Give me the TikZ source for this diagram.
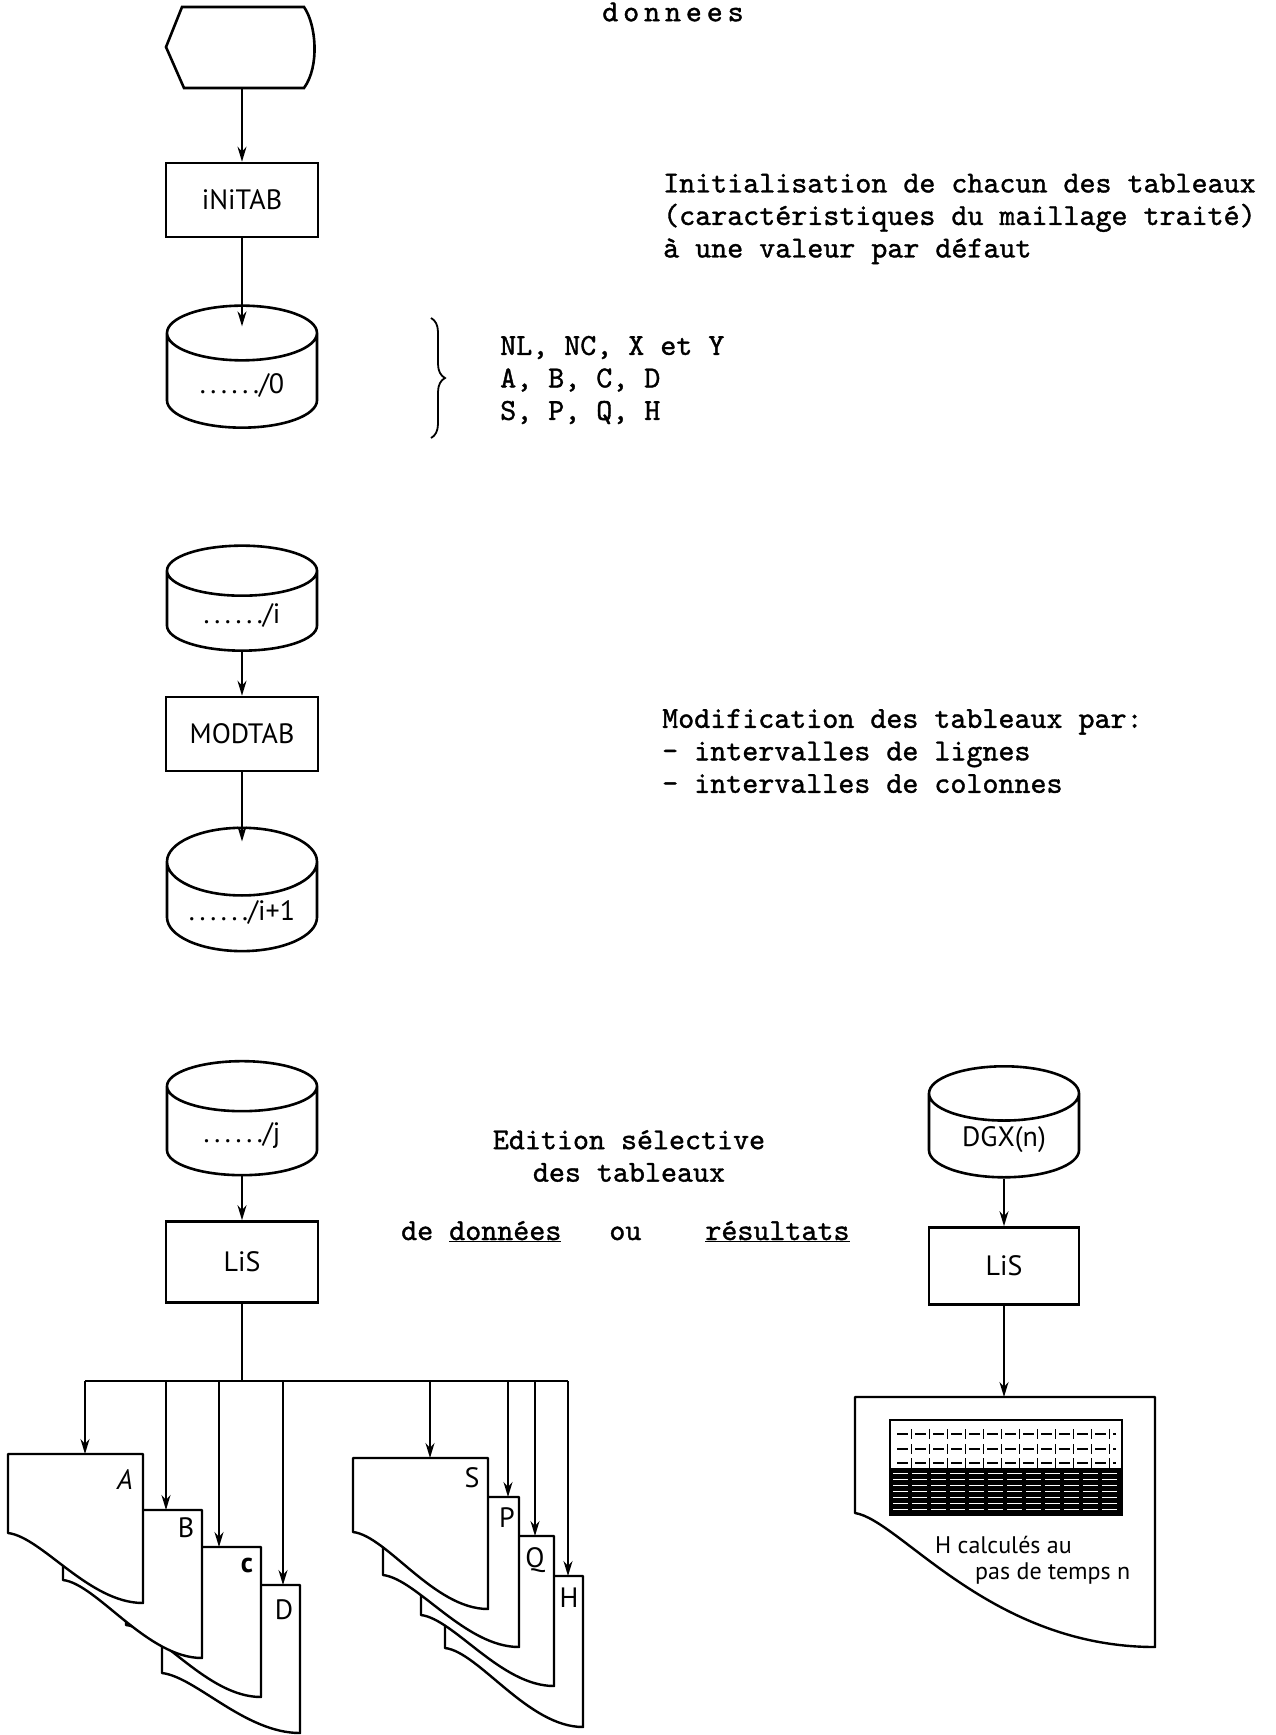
\documentclass[tikz,border=0pt]{standalone}
\usepackage{fontspec}
\usetikzlibrary{arrows,arrows.meta,shapes,decorations.pathreplacing}
\newfontfamily\manus{PT Sans}
\newfontfamily\machine{lmmono10-regular.otf}[FakeBold=1.2]
\newfontfamily\machinelarge{lmmono10-regular.otf}[FakeBold=1.2,LetterSpace=16]
\newcommand{\pts}{.\,.\,.\,.\,.\,.}
\tikzstyle{prog}=[rectangle,draw=black,line width=2.6pt,minimum width=152pt,minimum height=74pt,font=\manus\fontsize{28}{30}\selectfont]
\tikzstyle{fich}=[cylinder,shape border rotate=90,shape aspect=0.6,draw=black,line width=2.6pt,minimum width=150pt,font=\manus\fontsize{28}{30}\selectfont]
\tikzstyle{fleche}=[-{Stealth[length=15pt,width=9pt]},line width=1.9pt]
\tikzstyle{trait}=[line width=1.9pt]
\tikzstyle{feuille}=[draw=black,fill=white,line width=2.4pt,line join=round]
\tikzstyle{frappe}=[font=\machine\fontsize{30.5}{32.5}\selectfont,align=left,inner sep=0pt]
\tikzstyle{lettre}=[font=\manus\fontsize{28}{30}\selectfont,inner sep=0pt]

\begin{document}
\begin{tikzpicture}[x=1pt,y=-1pt]
\useasboundingbox (0,0) rectangle (1276,1735);
% initialisation
\draw[line width=2.6pt] (182,7) -- (304,7) .. controls (316,24) and (320,66) .. (304,88) -- (184,88) -- (166,47) -- cycle;
\coordinate (start) at (242,88);
\node[frappe,font=\machinelarge\fontsize{30.5}{32.5}\selectfont] (titre) at (673,12) {donnees};
\node[prog] (initab) at (242,200) {iNiTAB};
\node[fich,minimum height=122pt] (cylO) at (242,385) {\pts/0};
\draw[fleche] (start) -- (initab);
\draw[fleche] (initab) -- ([yshift=-22pt]cylO.top);
\node[frappe,anchor=west] (txtinit) at (663,219) {Initialisation de chacun des tableaux\\(caractéristiques du maillage traité)\\à une valeur par défaut};
\draw[decorate,decoration={brace,amplitude=14pt},line width=1.8pt] (431,318) -- (431,438);
\node[frappe,anchor=west] (liste) at (500,380) {NL, NC, X et Y\\A, B, C, D\\S, P, Q, H};
% modification
\node[fich,minimum height=105pt] (cylI) at (242,615) {\pts/i};
\node[prog] (modtab) at (242,734) {MODTAB};
\node[fich,minimum height=103pt] (cylIs) at (242,912) {\pts/i+1};
\draw[fleche] (cylI) -- (modtab);
\draw[fleche] (modtab) -- ([yshift=-15pt]cylIs.top);
\node[frappe,anchor=west] (txtmod) at (662,751) {Modification des tableaux par:\\- intervalles de lignes\\- intervalles de colonnes};
% edition
\node[fich,minimum height=114pt] (cylJ) at (242,1135) {\pts/j};
\node[prog,minimum height=81pt] (lis) at (242,1262) {LiS};
\draw[fleche] (cylJ) -- (lis);
\node[frappe,align=center] (txtedit) at (629,1156) {Edition sélective\\des tableaux};
\node[frappe,anchor=base west] (txtde) at (401,1240) {de \underline{données}\ \ \ ou\ \ \ \ \underline{résultats}};
\node[fich,minimum height=111pt] (dgx) at (1004,1140) {DGX(n)};
\node[prog,minimum height=77pt,minimum width=150pt] (lis2) at (1004,1266) {LiS};
\draw[fleche] (dgx) -- (lis2);
% feuilles A B C D
\coordinate (jn) at (242,1381);
\draw[trait] (lis) -- (jn);
\draw[feuille] (162,1585) -- (300,1585) -- (300,1733) .. controls +(-55,0) and +(34,4) .. (162,1673) -- cycle;
\draw[feuille] (126,1547) -- (261,1547) -- (261,1697) .. controls +(-54,0) and +(34,4) .. (126,1625) -- cycle;
\draw[feuille] (63,1510) -- (202,1510) -- (202,1658) .. controls +(-55,0) and +(34,4) .. (63,1580) -- cycle;
\draw[feuille] (8,1454) -- (143,1454) -- (143,1603) .. controls +(-54,0) and +(34,4) .. (8,1533) -- cycle;
\node[lettre] (lA) at (125,1480) {\itshape A};
\node[lettre] (lB) at (186,1528) {B};
\node[lettre] (lC) at (247,1565) {\bfseries c};
\node[lettre] (lD) at (284,1610) {D};
% feuilles S P Q H
\draw[feuille] (445,1576) -- (583,1576) -- (583,1727) .. controls +(-55,0) and +(34,4) .. (445,1648) -- cycle;
\draw[feuille] (421,1536) -- (554,1536) -- (554,1686) .. controls +(-53,0) and +(33,4) .. (421,1615) -- cycle;
\draw[feuille] (383,1497) -- (519,1497) -- (519,1647) .. controls +(-54,0) and +(34,4) .. (383,1575) -- cycle;
\draw[feuille] (353,1458) -- (488,1458) -- (488,1609) .. controls +(-54,0) and +(34,4) .. (353,1532) -- cycle;
\node[lettre] (lS) at (472,1478) {S};
\node[lettre] (lP) at (507,1518) {P};
\node[lettre] (lQ) at (535,1560) {Q};
\node[lettre] (lH) at (569,1598) {H};
\coordinate (fA) at (85,1454);
\coordinate (fB) at (166,1510);
\coordinate (fC) at (219,1547);
\coordinate (fD) at (283,1585);
\coordinate (fS) at (430,1458);
\coordinate (fP) at (508,1497);
\coordinate (fQ) at (535,1536);
\coordinate (fH) at (568,1576);
\draw[trait] (fA |- jn) -- (fH |- jn);
\foreach \f in {fA,fB,fC,fD,fS,fP,fQ,fH} \draw[fleche] (\f |- jn) -- (\f);
% resultats H au pas n
\draw[feuille] (855,1397) -- (1155,1397) -- (1155,1647) .. controls +(-165,0) and +(45,7) .. (855,1513) -- cycle;
\coordinate (sortie) at (1004,1397);
\draw[fleche] (lis2) -- (sortie);
\draw[line width=1.8pt] (890,1420) rectangle (1122,1515);
\foreach \y in {1434,1449,1463} {
  \draw[line width=1.6pt,dash pattern=on 11pt off 7pt] (897,\y) -- (1116,\y);
  \foreach \k in {0,...,11} \draw[line width=1.3pt] ({911.5+18*\k},\y-5) -- ++(0,10);
}
\fill (890,1468) rectangle (1122,1515);
\foreach \y in {1473,1479,...,1509} \draw[white,line width=0.9pt,dash pattern=on 15pt off 4pt] (893,\y) -- (1119,\y);
\node[lettre,anchor=west,font=\manus\fontsize{24}{26}\selectfont] (hcalc) at (935,1545) {H calculés au};
\node[lettre,anchor=west,font=\manus\fontsize{24}{26}\selectfont] (pasn) at (975,1573) {pas de temps n};
\end{tikzpicture}
\end{document}
